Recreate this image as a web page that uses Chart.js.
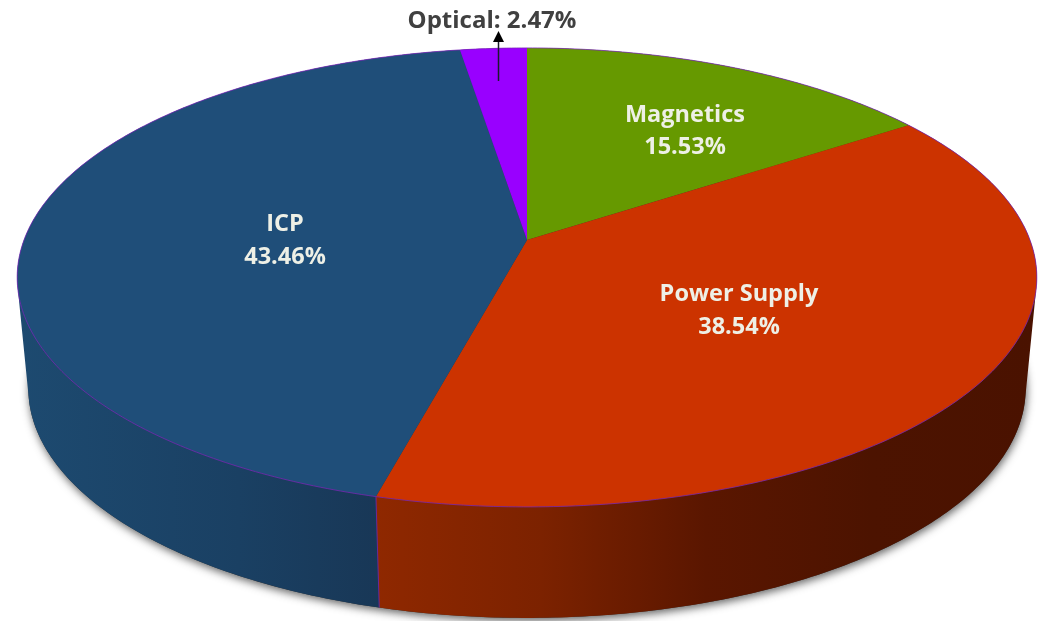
<!DOCTYPE html>
<html>
<head>
<meta charset="utf-8">
<style>html,body{margin:0;padding:0;background:#fff}canvas{display:block}</style>
<script src="https://cdn.jsdelivr.net/npm/chart.js@4/dist/chart.umd.min.js"></script>
</head>
<body>
<canvas id="pie" width="1050" height="621"></canvas>
<script>
const categories=['Magnetics','Power Supply','ICP','Optical'];
const shares=[15.53,38.54,43.46,2.47];
const topColors=['#669900','#cc3300','#1f4e79','#9900ff'];
// wall shading, left to right
const wallColors=[['#4a6e00','#3a5600'],['#8f2800','#7c2200','#5a1600','#4c1300','#4a1200'],['#1d4a70','#1a4063','#17324f'],['#6a00b0','#5a0090']];

// perspective of the tilted disc, fitted to the picture
const CX=527,TILT=-0.163,SQ=223.4;
const topRim={y:240,r:503},baseRim={y:351,r:492};
function project(a,rim){
  const u=Math.cos(a),v=Math.sin(a),w=1+TILT*v;
  return [CX+rim.r*u/w,rim.y+SQ*v/w];
}
function rimPoints(a0,a1,rim){
  const n=Math.max(2,Math.ceil((a1-a0)*80)),pts=[];
  for(let i=0;i<=n;i++)pts.push(project(a0+(a1-a0)*i/n,rim));
  return pts;
}
function trace(ctx,pts,start){
  pts.forEach((p,i)=>{if(i===0&&start)ctx.moveTo(p[0],p[1]);else ctx.lineTo(p[0],p[1]);});
}
// quads must all wind the same way or nonzero fill cancels them at the sides
function quadPath(ctx,q){
  let area=0;
  q.forEach((p,i)=>{const n=q[(i+1)%4];area+=p[0]*n[1]-n[0]*p[1];});
  if(area<0)q=q.slice().reverse();
  trace(ctx,q,true);ctx.closePath();
}

const disc3d={
  id:'disc3d',
  beforeDatasetsDraw(chart){
    const ctx=chart.ctx,arcs=chart.getDatasetMeta(0).data;
    const wallPath=(top,base)=>{
      for(let k=0;k<top.length-1;k++)quadPath(ctx,[top[k],top[k+1],base[k+1],base[k]]);
    };
    ctx.save();
    // soft shadow round the base
    ctx.save();
    ctx.shadowColor='rgba(50,50,50,0.75)';ctx.shadowBlur=9;ctx.shadowOffsetX=1;ctx.shadowOffsetY=3;
    ctx.fillStyle='#333';
    ctx.beginPath();trace(ctx,rimPoints(0,Math.PI*2,baseRim),true);ctx.closePath();ctx.fill();
    ctx.restore();
    // walls
    arcs.forEach((arc,i)=>{
      const top=rimPoints(arc.startAngle,arc.endAngle,topRim),base=rimPoints(arc.startAngle,arc.endAngle,baseRim);
      const xs=top.concat(base).map(p=>p[0]),x0=Math.min(...xs),x1=Math.max(...xs);
      const g=ctx.createLinearGradient(x0,0,x1,0);
      wallColors[i].forEach((c,k,l)=>g.addColorStop(k/(l.length-1),c));
      ctx.fillStyle=g;
      ctx.beginPath();wallPath(top,base);ctx.fill();
    });
    // seam between the ICP and Power Supply walls
    const seam=arcs[1].endAngle,p=project(seam,topRim),q=project(seam,baseRim);
    ctx.strokeStyle=arcs[1].options.borderColor;ctx.lineWidth=1;
    ctx.beginPath();ctx.moveTo(p[0],p[1]);ctx.lineTo(q[0],q[1]);ctx.stroke();
    // top face
    arcs.forEach(arc=>{
      const pts=rimPoints(arc.startAngle,arc.endAngle,topRim);
      ctx.fillStyle=arc.options.backgroundColor;
      ctx.beginPath();ctx.moveTo(CX,topRim.y);trace(ctx,pts,false);ctx.closePath();ctx.fill();
    });
    arcs.forEach(arc=>{
      ctx.strokeStyle=arc.options.borderColor;ctx.lineWidth=arc.options.borderWidth;
      ctx.beginPath();trace(ctx,rimPoints(arc.startAngle,arc.endAngle,topRim),true);ctx.stroke();
    });
    ctx.restore();
    return false;
  },
  afterDraw(chart){
    const ctx=chart.ctx;
    ctx.save();
    ctx.textAlign='center';ctx.textBaseline='middle';
    ctx.font='bold 23.5px "Open Sans"';ctx.fillStyle='#eef0e6';
    [[685,115,147],[739,294,327],[285,224,257]].forEach((pos,i)=>{
      ctx.fillText(categories[i],pos[0],pos[1]);
      ctx.fillText(shares[i].toFixed(2)+'%',pos[0],pos[2]);
    });
    ctx.font='bold 24px "Open Sans"';ctx.fillStyle='#404040';
    ctx.fillText(categories[3]+': '+shares[3].toFixed(2)+'%',492,21);
    // pointer to the Optical slice
    ctx.strokeStyle='#1a1a2a';ctx.fillStyle='#000';ctx.lineWidth=1.5;
    ctx.beginPath();ctx.moveTo(498.5,81);ctx.lineTo(498.5,38);ctx.stroke();
    ctx.beginPath();ctx.moveTo(498.5,31);ctx.lineTo(504,42);ctx.lineTo(493,42);ctx.closePath();ctx.fill();
    ctx.restore();
  }
};

new Chart(document.getElementById('pie'),{
  type:'pie',
  data:{labels:categories,datasets:[{data:shares,backgroundColor:topColors,borderColor:'rgba(122,37,184,0.75)',borderWidth:1}]},
  options:{
    responsive:false,animation:false,
    layout:{padding:0},
    plugins:{legend:{display:false},tooltip:{enabled:false}}
  },
  plugins:[disc3d]
});
</script>
</body>
</html>
